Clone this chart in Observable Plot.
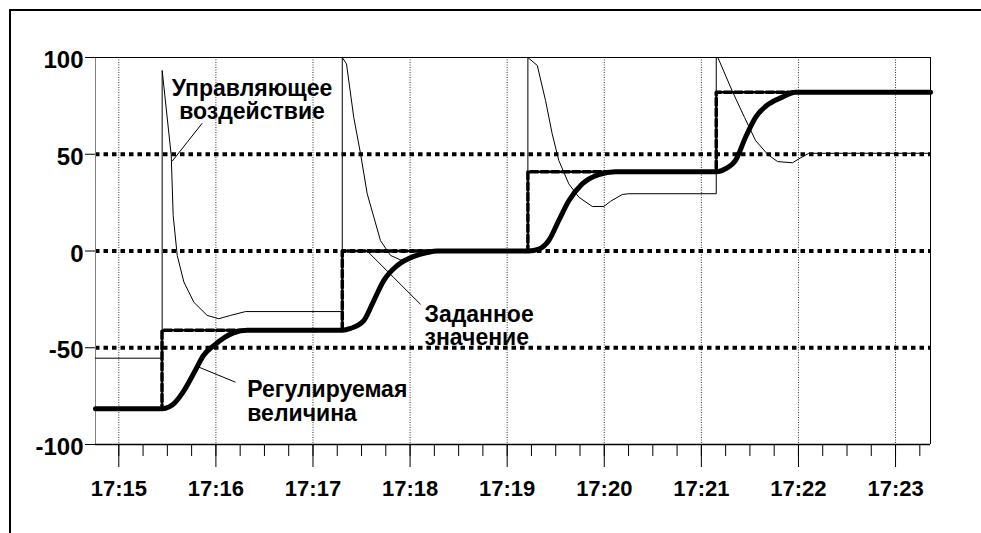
<!DOCTYPE html>
<html><head><meta charset="utf-8">
<script src="https://cdn.jsdelivr.net/npm/d3@7"></script>
<script src="https://cdn.jsdelivr.net/npm/@observablehq/plot@0.6"></script>
<style>
html,body{margin:0;padding:0;background:#fff;}
#wrap{position:relative;width:981px;height:533px;overflow:hidden;}
#border{position:absolute;left:9px;top:9px;width:1100px;height:700px;border-top:2px solid #000;border-left:2px solid #000;}
#chart{position:absolute;left:0;top:0;}
</style></head><body>
<div id="wrap"><div id="chart"></div><div id="border"></div></div>
<script>
// ---- data (time of day, value in %) ----
const xDomain = ["17:14:45.6", "17:23:21.6"];
const yDomain = [-100, 100];
const xTickLabels = ["17:15","17:16","17:17","17:18","17:19","17:20","17:21","17:22","17:23"];
const yTicks = [-100, -50, 0, 50, 100];
const refLevels = [-50, 0, 50];

// Заданное значение (setpoint), step function
const setpointTimes  = ["17:14:45.6","17:15:26.7","17:17:18.1","17:19:12.8","17:21:09.2","17:23:21.6"];
const setpointValues = [-81.5, -41, 0, 41, 82, 82];

// Регулируемая величина (process variable)
const pvTimes = ["17:14:45.6","17:15:26.7","17:15:28.9","17:15:33.2","17:15:40.0","17:15:47.4","17:15:52.3","17:15:58.5","17:16:10.9","17:16:19.5",
  "17:17:18.2","17:17:23.2","17:17:31.4","17:17:37.6","17:17:43.8","17:17:52.1","17:18:02.3","17:18:10.6","17:18:16.8",
  "17:19:13.2","17:19:19.6","17:19:25.7","17:19:31.9","17:19:38.1","17:19:46.4","17:19:56.6","17:20:07.0",
  "17:21:09.4","17:21:14.9","17:21:21.1","17:21:27.3","17:21:33.5","17:21:41.7","17:21:50.0","17:21:58.2","17:23:21.6"];
const pvValues = [-81.5,-81.5,-81.3,-79.5,-72.5,-61.5,-54,-49,-42.3,-41,
  -41,-40,-36,-25.6,-15.2,-7.5,-2.8,-0.8,0,
  0,1,5.4,15.8,26,34.7,39.5,41,
  41,42.5,46.8,58.8,69.1,76,79.5,82,82];

// Управляющее воздействие (control output)
const controlTimes = ["17:14:45.6","17:15:26.8","17:15:26.8","17:15:32.4","17:15:33.6","17:15:36.1","17:15:40.2","17:15:46.4","17:15:54.6","17:16:01.8","17:16:09.0","17:16:18.3",
  "17:17:18.1","17:17:18.1","17:17:20.7","17:17:25.2","17:17:29.4","17:17:33.5","17:17:37.6","17:17:41.7","17:17:47.9","17:17:54.1","17:18:00.3","17:18:06.4","17:18:12.6",
  "17:19:12.8","17:19:12.8","17:19:18.6","17:19:23.7","17:19:27.8","17:19:31.9","17:19:38.1","17:19:44.3","17:19:52.6","17:19:59.7","17:20:03.9","17:20:11.1","17:20:15.2",
  "17:21:09.2","17:21:09.2","17:21:10.2","17:21:19.1","17:21:26.7","17:21:33.5","17:21:40.9","17:21:47.1","17:21:56.4","17:22:00.2","17:22:06.4","17:23:21.6"];
const controlValues = [-55.4,-55.4,93.3,49.4,18.3,-2.3,-16,-26.5,-33.3,-35,-33.3,-31.3,
  -31.3,100,96.7,69,50.2,29.6,17.5,5.4,-2.3,-4.6,-4,-1.8,0,
  0,100,95.9,77.8,60.6,46.8,34.7,27.8,23,23,25.7,29.2,29.6,
  29.6,100,100,82.6,69,57.1,50,46.2,45.6,47.6,50.5,50.5];

// annotations
const labelTexts  = ["Управляющее\nвоздействие", "Заданное\nзначение", "Регулируемая\nвеличина"];
const labelTimes  = ["17:16:22.3", "17:18:08.9", "17:16:19.4"];
const labelValues = [68.0, -48.8, -87.6];
const leaderFromTimes  = ["17:15:51.5", "17:17:33.5", "17:15:49.4"];
const leaderFromValues = [66.0, 0, -60];
const leaderToTimes    = ["17:15:33.0", "17:18:06.5", "17:16:12.1"];
const leaderToValues   = [46.4, -27.6, -67.8];

// ---- helpers ----
function t(s) {
  const p = s.split(":").map(Number);
  return new Date(Date.UTC(2000, 0, 1, p[0], p[1]) + (p[2] || 0) * 1000);
}
const T = a => a.map(t);
const idx = a => a.map((_, i) => i);
const xd = T(xDomain);
const minorTicks = d3.utcSecond.every(15).range(xd[0], xd[1]);
const FONT = "'Liberation Sans', Arial, sans-serif";

const lbl = (i, opts) => Plot.text([i], {
  x: [t(labelTimes[i])], y: [labelValues[i]], text: [labelTexts[i]],
  lineAnchor: "bottom", lineHeight: 1.04, fontSize: 23, fontWeight: "bold", fill: "#000", ...opts
});

const chart = Plot.plot({
  width: 981, height: 533,
  marginLeft: 95, marginRight: 51, marginTop: 57, marginBottom: 89,
  style: {fontFamily: FONT, fontWeight: "bold", color: "#000", background: "transparent"},
  x: {type: "utc", domain: xd},
  y: {domain: yDomain},
  marks: [
    lbl(0, {textAnchor: "middle"}),
    lbl(1, {textAnchor: "start"}),
    lbl(2, {textAnchor: "start"}),
    Plot.ruleX(T(xTickLabels), {stroke: "#333", strokeWidth: 1, strokeDasharray: "1,1.5"}),
    Plot.ruleY(refLevels, {stroke: "#000", strokeWidth: 4, strokeDasharray: "4.5,4"}),
    Plot.ruleX([xd[0]], {stroke: "#808080", strokeWidth: 1}),
    Plot.ruleX([xd[1]], {stroke: "#000", strokeWidth: 1}),
    Plot.ruleY([yDomain[1]], {stroke: "#000", strokeWidth: 1}),
    Plot.ruleY([yDomain[0]], {stroke: "#000", strokeWidth: 1.5}),
    Plot.axisY({ticks: yTicks, tickSize: 10, tickFormat: () => "", label: null}),
    Plot.text(yTicks, {y: d => d, text: d => String(d), frameAnchor: "left", textAnchor: "end", dx: -12, dy: 3, fontSize: 24, fontWeight: "bold", fill: "#000"}),
    Plot.axisX({ticks: minorTicks, tickSize: 12, tickFormat: () => "", label: null}),
    Plot.axisX({ticks: T(xTickLabels), tickSize: 23, tickPadding: 13, fontSize: 22, fontWeight: "bold", tickFormat: d3.utcFormat("%H:%M"), label: null}),
    Plot.line(idx(setpointTimes), {x: T(setpointTimes), y: setpointValues, curve: "step-after", stroke: "#000", strokeWidth: 3.5, strokeDasharray: "7.5,3"}),
    Plot.line(idx(controlTimes), {x: T(controlTimes), y: controlValues, stroke: "#000", strokeWidth: 1}),
    Plot.line(idx(pvTimes), {x: T(pvTimes), y: pvValues, curve: "monotone-x", stroke: "#000", strokeWidth: 5}),
    Plot.link(idx(leaderFromTimes), {x1: T(leaderFromTimes), y1: leaderFromValues, x2: T(leaderToTimes), y2: leaderToValues, stroke: "#000", strokeWidth: 1})
  ]
});
document.getElementById("chart").appendChild(chart);
</script>
</body></html>
